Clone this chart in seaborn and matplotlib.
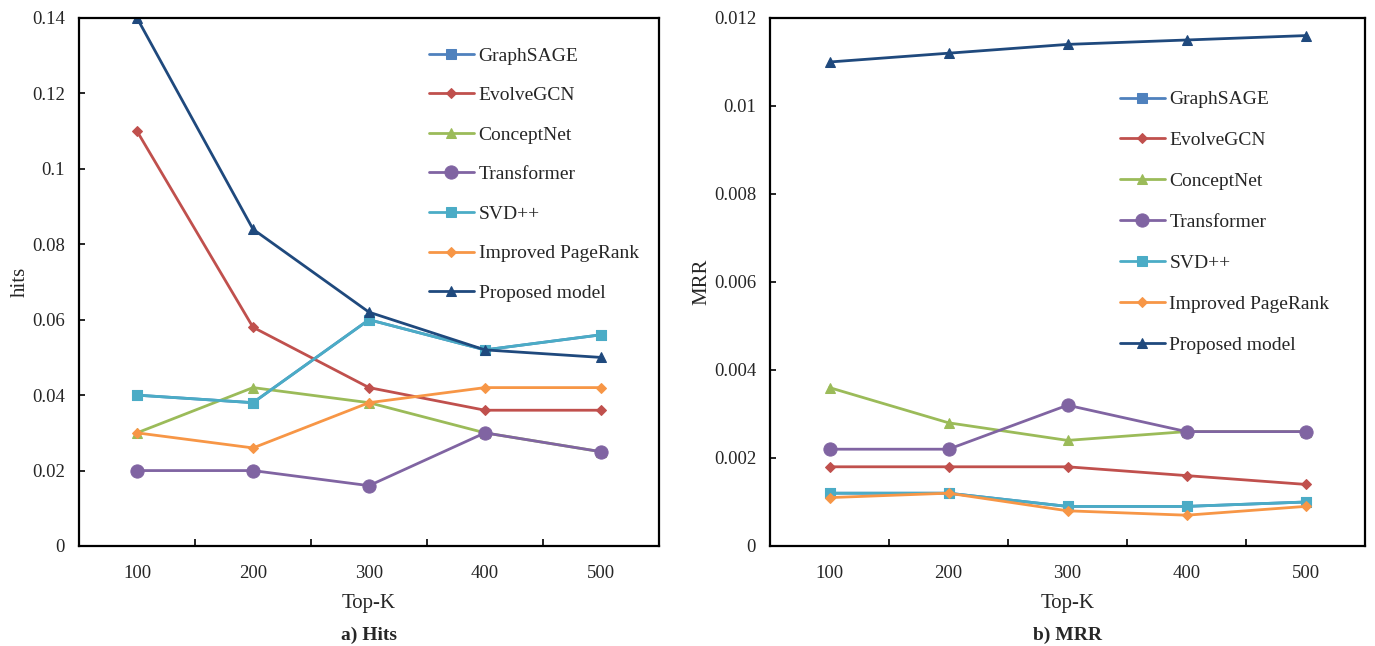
import matplotlib
matplotlib.use("Agg")
import matplotlib.pyplot as plt
import seaborn as sns
import pandas as pd
from matplotlib.ticker import FixedLocator

# Top-K categories
top_k = ["100", "200", "300", "400", "500"]
models = ["GraphSAGE", "EvolveGCN", "ConceptNet", "Transformer", "SVD++",
          "Improved PageRank", "Proposed model"]

# a) Hits
hits_graphsage = [0.040, 0.038, 0.060, 0.052, 0.056]
hits_evolvegcn = [0.110, 0.058, 0.042, 0.036, 0.036]
hits_conceptnet = [0.030, 0.042, 0.038, 0.030, 0.025]
hits_transformer = [0.020, 0.020, 0.016, 0.030, 0.025]
hits_svdpp = [0.040, 0.038, 0.060, 0.052, 0.056]
hits_pagerank = [0.030, 0.026, 0.038, 0.042, 0.042]
hits_proposed = [0.140, 0.084, 0.062, 0.052, 0.050]

# b) MRR
mrr_graphsage = [0.0012, 0.0012, 0.0009, 0.0009, 0.0010]
mrr_evolvegcn = [0.0018, 0.0018, 0.0018, 0.0016, 0.0014]
mrr_conceptnet = [0.0036, 0.0028, 0.0024, 0.0026, 0.0026]
mrr_transformer = [0.0022, 0.0022, 0.0032, 0.0026, 0.0026]
mrr_svdpp = [0.0012, 0.0012, 0.0009, 0.0009, 0.0010]
mrr_pagerank = [0.0011, 0.0012, 0.0008, 0.0007, 0.0009]
mrr_proposed = [0.0110, 0.0112, 0.0114, 0.0115, 0.0116]

hits = [hits_graphsage, hits_evolvegcn, hits_conceptnet, hits_transformer,
        hits_svdpp, hits_pagerank, hits_proposed]
mrr = [mrr_graphsage, mrr_evolvegcn, mrr_conceptnet, mrr_transformer,
       mrr_svdpp, mrr_pagerank, mrr_proposed]

colors = ["#4F81BD", "#C0504D", "#9BBB59", "#8064A2", "#4BACC6", "#F79646", "#1F497D"]
markers = ["s", "D", "^", "o", "s", "D", "^"]
msizes = [6.5, 5.5, 7.5, 9.5, 6.5, 5.5, 7.5]

sns.set_style("white")
plt.rcParams["font.family"] = ["Liberation Serif", "DejaVu Serif"]

fig = plt.figure(figsize=(13.75, 6.46), dpi=100)
ax1 = fig.add_axes([79 / 1375, 100 / 646, 580 / 1375, 528 / 646])
ax2 = fig.add_axes([770 / 1375, 100 / 646, 595 / 1375, 528 / 646])


def draw(ax, data, ylabel, ymax, ystep, yticklabels, legend_anchor, spacing, subtitle):
    for name, vals, c, m, ms in zip(models, data, colors, markers, msizes):
        df = pd.DataFrame({"Top-K": top_k, "v": vals})
        sns.lineplot(data=df, x="Top-K", y="v", ax=ax, color=c, marker=m,
                     markersize=ms, markeredgecolor=c, linewidth=2,
                     label=name)
    ax.set_xlim(-0.5, 4.5)
    ax.set_ylim(0, ymax)
    ax.set_yticks([i * ystep for i in range(len(yticklabels))])
    ax.set_yticklabels(yticklabels)
    ax.xaxis.set_minor_locator(FixedLocator([0.5, 1.5, 2.5, 3.5]))
    ax.tick_params(axis="x", which="major", length=0, labelsize=13.5, pad=14)
    ax.tick_params(axis="x", which="minor", direction="in", length=5,
                   width=1.2, color="black", bottom=True)
    ax.tick_params(axis="y", direction="in", length=4, width=1.2,
                   color="black", labelsize=13.5, left=True, pad=10)
    for s in ax.spines.values():
        s.set_color("black")
        s.set_linewidth(1.6)
        s.set_visible(True)
    ax.set_xlabel("Top-K", fontsize=15, labelpad=8)
    ax.set_ylabel(ylabel, fontsize=15, labelpad=2)
    ax.legend(loc="upper left", bbox_to_anchor=legend_anchor, frameon=False,
              fontsize=14, labelspacing=spacing, handlelength=2.3,
              handletextpad=0.25, borderaxespad=0)
    ax.text(0.5, -0.17, subtitle, transform=ax.transAxes, ha="center",
            va="center", fontsize=14, fontweight="bold")


draw(ax1, hits, "hits", 0.14, 0.02,
     ["0", "0.02", "0.04", "0.06", "0.08", "0.1", "0.12", "0.14"],
     (0.59, 0.96), 1.13, "a) Hits")
draw(ax2, mrr, "MRR", 0.012, 0.002,
     ["0", "0.002", "0.004", "0.006", "0.008", "0.01", "0.012"],
     (0.575, 0.877), 1.2, "b) MRR")

fig.savefig("out.png", dpi=100)
